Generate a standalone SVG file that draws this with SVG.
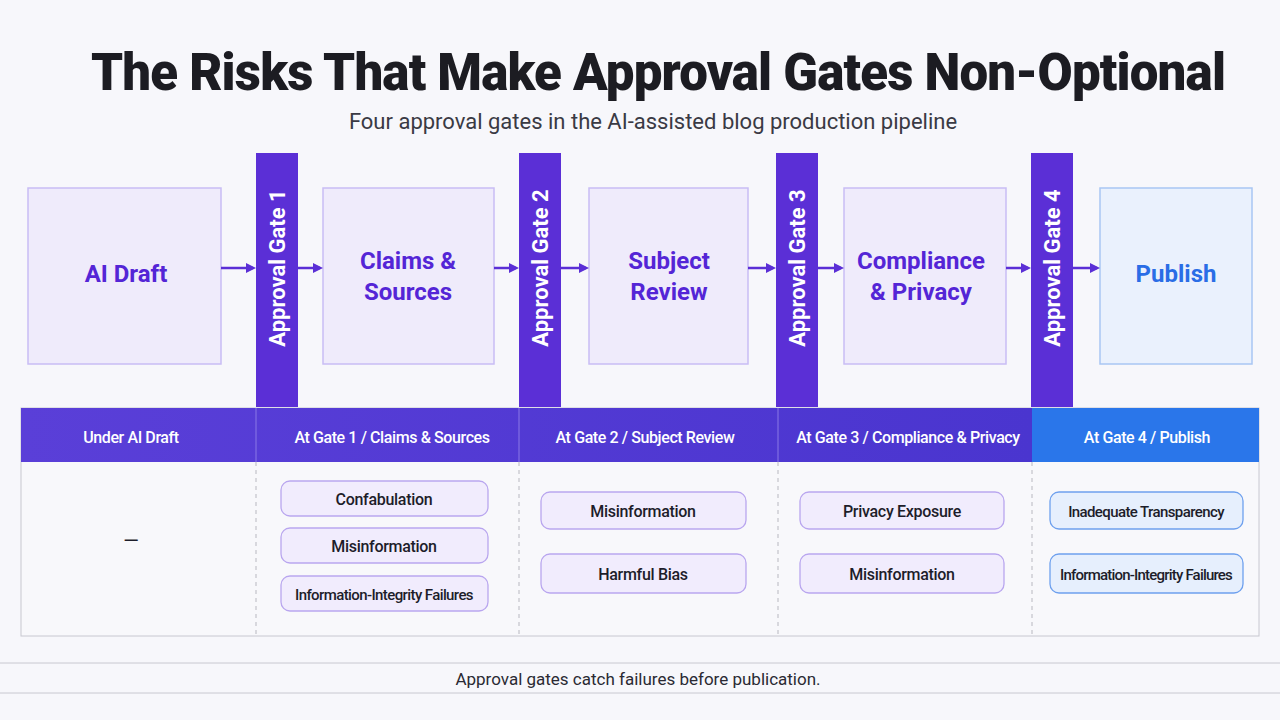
<svg xmlns="http://www.w3.org/2000/svg" width="1280" height="720" viewBox="0 0 1280 720">
<style>
text{font-family:"Roboto","Liberation Sans",sans-serif}
.title{font-size:51px;font-weight:900;fill:#1c1c22;letter-spacing:-0.8px}
.sub{font-size:22px;fill:#3a3a44}
.stage{fill:#efebfb;stroke:#c9bdf5;stroke-width:1.5}
.stxt{font-size:24px;font-weight:700;fill:#5425d6;text-anchor:middle}
.gate{fill:#5b2fd6}
.gtxt{font-size:22px;font-weight:700;fill:#fff;text-anchor:middle}
.hdr{font-size:16px;font-weight:500;fill:#fff;text-anchor:middle;letter-spacing:-0.4px}
.pill{fill:#f1ecfd;stroke:#b9a6ef;stroke-width:1.3}
.pillb{fill:#e6effd;stroke:#6ea0ee;stroke-width:1.3}
.ptxt{font-size:16px;font-weight:500;fill:#1d1d2a;text-anchor:middle;letter-spacing:-0.3px}
.conn{stroke:#5b2fd6;stroke-width:2.5;fill:none}
.div{stroke:#b8b8c0;stroke-width:1;stroke-dasharray:4 4}
</style>
<defs>
<marker id="ah" markerWidth="10" markerHeight="10" refX="7" refY="5" orient="auto" markerUnits="userSpaceOnUse"><path d="M0,0 L10,5 L0,10 z" fill="#5b2fd6"/></marker>
<linearGradient id="hg" x1="0" x2="1"><stop offset="0" stop-color="#5a3fd8"/><stop offset="1" stop-color="#4a35cf"/></linearGradient>
</defs>
<rect width="1280" height="720" fill="#f7f7fb"/>
<text class="title" x="658" y="90" text-anchor="middle">The Risks That Make Approval Gates Non-Optional</text>
<text class="sub" x="653" y="129" text-anchor="middle">Four approval gates in the AI-assisted blog production pipeline</text>

<g id="node-ai-draft"><rect class="stage" x="28" y="188" width="193" height="176"/><text class="stxt" x="126" y="282">AI Draft</text></g>
<g id="node-claims"><rect class="stage" x="323" y="188" width="171" height="176"/><text class="stxt" x="408" y="269">Claims &amp;</text><text class="stxt" x="408" y="300">Sources</text></g>
<g id="node-subject"><rect class="stage" x="589" y="188" width="159" height="176"/><text class="stxt" x="669" y="269">Subject</text><text class="stxt" x="669" y="300">Review</text></g>
<g id="node-compliance"><rect class="stage" x="844" y="188" width="162" height="176"/><text class="stxt" x="921" y="269">Compliance</text><text class="stxt" x="921" y="300">&amp; Privacy</text></g>
<g id="node-publish"><rect x="1100" y="188" width="152" height="176" fill="#eaf1fd" stroke="#a9c6f3" stroke-width="1.5"/><text class="stxt" x="1176" y="282" style="fill:#2a6de6">Publish</text></g>

<g id="gate-1"><rect class="gate" x="256" y="153" width="42" height="254"/><text class="gtxt" transform="translate(285,268) rotate(-90)">Approval Gate 1</text></g>
<g id="gate-2"><rect class="gate" x="519" y="153" width="42" height="254"/><text class="gtxt" transform="translate(548,268) rotate(-90)">Approval Gate 2</text></g>
<g id="gate-3"><rect class="gate" x="776" y="153" width="42" height="254"/><text class="gtxt" transform="translate(805,268) rotate(-90)">Approval Gate 3</text></g>
<g id="gate-4"><rect class="gate" x="1031" y="153" width="42" height="254"/><text class="gtxt" transform="translate(1060,268) rotate(-90)">Approval Gate 4</text></g>

<g id="connectors">
<line class="conn" x1="221" y1="268" x2="253" y2="268" marker-end="url(#ah)"/>
<line class="conn" x1="298" y1="268" x2="320" y2="268" marker-end="url(#ah)"/>
<line class="conn" x1="494" y1="268" x2="516" y2="268" marker-end="url(#ah)"/>
<line class="conn" x1="561" y1="268" x2="586" y2="268" marker-end="url(#ah)"/>
<line class="conn" x1="748" y1="268" x2="773" y2="268" marker-end="url(#ah)"/>
<line class="conn" x1="818" y1="268" x2="841" y2="268" marker-end="url(#ah)"/>
<line class="conn" x1="1006" y1="268" x2="1028" y2="268" marker-end="url(#ah)"/>
<line class="conn" x1="1073" y1="268" x2="1097" y2="268" marker-end="url(#ah)"/>
</g>

<g id="table">
<rect x="21" y="408" width="1238" height="228" fill="#f8f8fb" stroke="#c8c8d0" stroke-width="1"/>
<rect x="21" y="408" width="1011" height="54" fill="url(#hg)"/>
<rect x="1032" y="408" width="227" height="54" fill="#2a76ea"/>
<line x1="256" y1="408" x2="256" y2="462" stroke="#8a78e6"/>
<line x1="519" y1="408" x2="519" y2="462" stroke="#8a78e6"/>
<line x1="778" y1="408" x2="778" y2="462" stroke="#8a78e6"/>
<line class="div" x1="256" y1="462" x2="256" y2="636"/>
<line class="div" x1="519" y1="462" x2="519" y2="636"/>
<line class="div" x1="778" y1="462" x2="778" y2="636"/>
<line class="div" x1="1032" y1="462" x2="1032" y2="636"/>
<text class="hdr" x="131" y="443">Under AI Draft</text>
<text class="hdr" x="392" y="443">At Gate 1 / Claims &amp; Sources</text>
<text class="hdr" x="645" y="443">At Gate 2 / Subject Review</text>
<text class="hdr" x="908" y="443">At Gate 3 / Compliance &amp; Privacy</text>
<text class="hdr" x="1147" y="443">At Gate 4 / Publish</text>
<text x="131" y="548" font-size="20" fill="#1d1d2a" text-anchor="middle">—</text>
</g>

<g id="risk-g1-1"><rect class="pill" x="281" y="481" width="207" height="35" rx="9"/><text class="ptxt" x="384" y="505">Confabulation</text></g>
<g id="risk-g1-2"><rect class="pill" x="281" y="528" width="207" height="35" rx="9"/><text class="ptxt" x="384" y="552">Misinformation</text></g>
<g id="risk-g1-3"><rect class="pill" x="281" y="576" width="207" height="35" rx="9"/><text class="ptxt" x="384" y="600" style="font-size:15px;letter-spacing:-0.6px">Information-Integrity Failures</text></g>
<g id="risk-g2-1"><rect class="pill" x="541" y="492" width="205" height="37" rx="9"/><text class="ptxt" x="643" y="517">Misinformation</text></g>
<g id="risk-g2-2"><rect class="pill" x="541" y="554" width="205" height="39" rx="9"/><text class="ptxt" x="643" y="580">Harmful Bias</text></g>
<g id="risk-g3-1"><rect class="pill" x="800" y="492" width="204" height="37" rx="9"/><text class="ptxt" x="902" y="517">Privacy Exposure</text></g>
<g id="risk-g3-2"><rect class="pill" x="800" y="554" width="204" height="39" rx="9"/><text class="ptxt" x="902" y="580">Misinformation</text></g>
<g id="risk-g4-1"><rect class="pillb" x="1050" y="492" width="193" height="37" rx="9"/><text class="ptxt" x="1146" y="517" style="font-size:15px;letter-spacing:-0.6px">Inadequate Transparency</text></g>
<g id="risk-g4-2"><rect class="pillb" x="1050" y="554" width="193" height="39" rx="9"/><text class="ptxt" x="1146" y="580" style="font-size:15px;letter-spacing:-0.8px">Information-Integrity Failures</text></g>

<g id="footer">
<line x1="0" y1="663" x2="1280" y2="663" stroke="#c8c8d0"/>
<line x1="0" y1="693" x2="1280" y2="693" stroke="#c8c8d0"/>
<text x="638" y="685" font-size="17" fill="#2a2a33" text-anchor="middle">Approval gates catch failures before publication.</text>
</g>
</svg>
